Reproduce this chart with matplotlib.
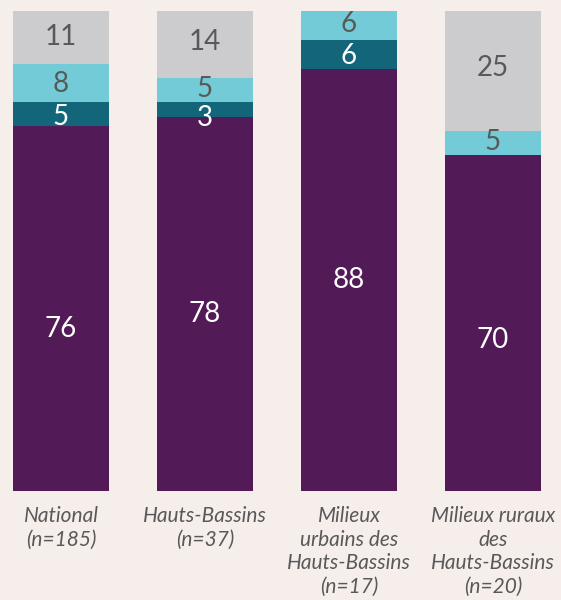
import numpy as np
import matplotlib
matplotlib.use('Agg')
import matplotlib.pyplot as plt

categories = ["National\n(n=185)", "Hauts-Bassins\n(n=37)",
              "Milieux\nurbains des\nHauts-Bassins\n(n=17)",
              "Milieux ruraux\ndes\nHauts-Bassins\n(n=20)"]

# stacked shares (%), bottom to top
purple_vals = [76, 78, 88, 70]
teal_vals = [5, 3, 6, 0]
cyan_vals = [8, 5, 6, 5]
gray_vals = [11, 14, 0, 25]

series = [purple_vals, teal_vals, cyan_vals, gray_vals]
colors = ["#521a56", "#13667a", "#74cbd8", "#cccbcd"]
text_colors = ["white", "white", "#595959", "#595959"]
# vertical nudge of each value label (in % units) from segment centre
nudges = [[-4.2, -2.1, 0, -3.5],
          [-0.6, -1.7, -0.4, 0],
          [-0.2, 0.2, 0.2, 0.2],
          [0, 0.6, 0, 0.6]]
bg = "#f6eeeb"

fig = plt.figure(figsize=(5.61, 6.0), dpi=100, facecolor=bg)
ax = fig.add_axes([0, 109 / 600, 1, 480 / 600])
ax.set_facecolor(bg)

x = np.arange(len(categories))
width = 96 / 144
bottom = np.zeros(len(categories))
for vals, col, tcol, nd in zip(series, colors, text_colors, nudges):
    vals = np.array(vals, dtype=float)
    ax.bar(x, vals, width, bottom=bottom, color=col, linewidth=0)
    for xi, v, b, d in zip(x, vals, bottom, nd):
        if v > 0:
            ax.text(xi, b + v / 2 + d, f"{int(v)}", ha="center", va="center",
                    color=tcol, fontsize=20, family="Lato")
    bottom += vals

ax.set_xlim(-61 / 144, (561 - 61) / 144)
ax.set_ylim(0, 100)
for s in ax.spines.values():
    s.set_visible(False)
ax.set_yticks([])
ax.set_xticks(x)
ax.set_xticklabels(categories, family="Lato", style="italic", fontsize=15,
                   color="#595959", linespacing=1.22)
ax.tick_params(axis="x", length=0, pad=11)

fig.savefig("out.png", dpi=100, facecolor=bg)
